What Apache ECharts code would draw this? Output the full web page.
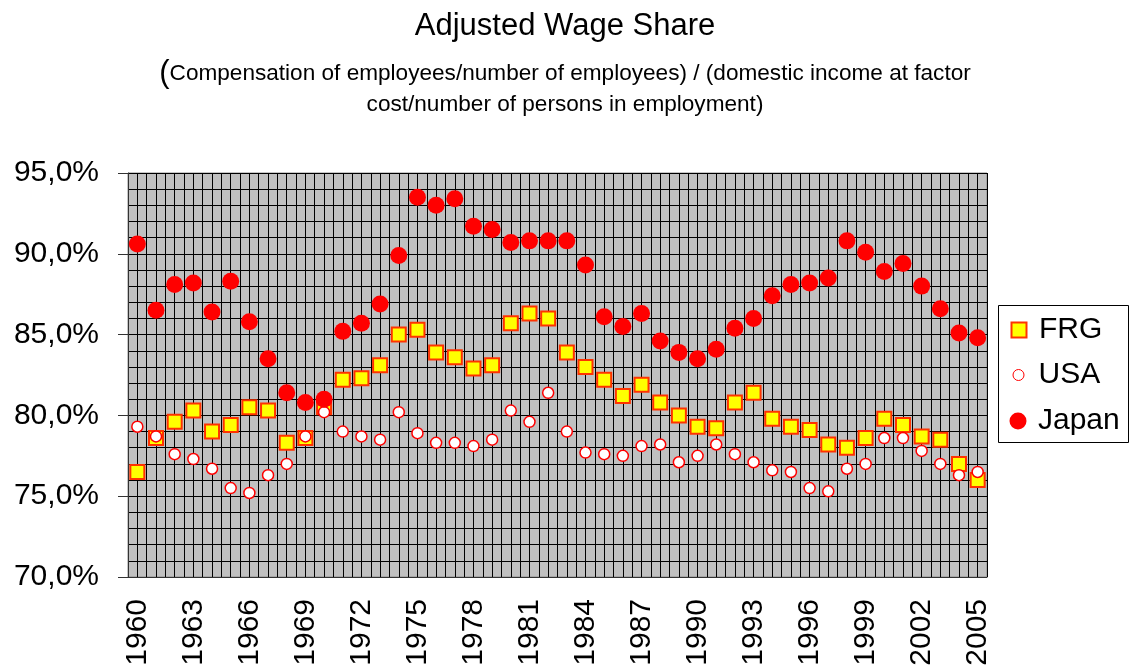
<!DOCTYPE html>
<html>
<head>
<meta charset="utf-8">
<script src="https://cdn.jsdelivr.net/npm/echarts@6/dist/echarts.min.js"></script>
<style>
    html, body { margin: 0; padding: 0; background: #fff; }
    #chart { width: 1130px; height: 670px; }
</style>
</head>
<body>
<div id="chart"></div>
<script>
const years = ["1960", "1961", "1962", "1963", "1964", "1965", "1966", "1967", "1968", "1969",
    "1970", "1971", "1972", "1973", "1974", "1975", "1976", "1977", "1978", "1979",
    "1980", "1981", "1982", "1983", "1984", "1985", "1986", "1987", "1988", "1989",
    "1990", "1991", "1992", "1993", "1994", "1995", "1996", "1997", "1998", "1999",
    "2000", "2001", "2002", "2003", "2004", "2005"];

const frg = [76.5, 78.6, 79.6, 80.3, 79.0, 79.4, 80.5, 80.3, 78.3, 78.6,
    80.5, 82.2, 82.3, 83.1, 85.0, 85.3, 83.9, 83.6, 82.9, 83.1,
    85.7, 86.3, 86.0, 83.9, 83.0, 82.2, 81.2, 81.9, 80.8, 80.0,
    79.3, 79.2, 80.8, 81.4, 79.8, 79.3, 79.1, 78.2, 78.0, 78.6,
    79.8, 79.4, 78.7, 78.5, 77.0, 76.0];

const usa = [79.3, 78.7, 77.6, 77.3, 76.7, 75.5, 75.2, 76.3, 77.0, 78.7,
    80.2, 79.0, 78.7, 78.5, 80.2, 78.9, 78.3, 78.3, 78.1, 78.5,
    80.3, 79.6, 81.4, 79.0, 77.7, 77.6, 77.5, 78.1, 78.2, 77.1,
    77.5, 78.2, 77.6, 77.1, 76.6, 76.5, 75.5, 75.3, 76.7, 77.0,
    78.6, 78.6, 77.8, 77.0, 76.3, 76.5];

const japan = [90.6, 86.5, 88.1, 88.2, 86.4, 88.3, 85.8, 83.5, 81.4, 80.8,
    81.0, 85.2, 85.7, 86.9, 89.9, 93.5, 93.0, 93.4, 91.7, 91.5,
    90.7, 90.8, 90.8, 90.8, 89.3, 86.1, 85.5, 86.3, 84.6, 83.9,
    83.5, 84.1, 85.4, 86.0, 87.4, 88.1, 88.2, 88.5, 90.8, 90.1,
    88.9, 89.4, 88.0, 86.6, 85.1, 84.8];

const font = "'Liberation Sans', Arial, sans-serif";

let myChart = echarts.init(document.getElementById("chart"));

// one legend per series so each icon keeps its own size
function legendItem(name, centerY, size, border) {
    return {
        data: [name],
        orient: "vertical",
        left: 1018 - size / 2,
        top: centerY - 16,
        padding: 0,
        itemWidth: size,
        itemHeight: size,
        selectedMode: false,
        itemStyle: { borderWidth: border, opacity: 1 },
        textStyle: {
            color: "#000",
            fontSize: 30,
            fontFamily: font,
            padding: [0, 0, 0, 15 - size / 2],
        },
    };
}

myChart.setOption({
    backgroundColor: "#fff",
    animation: false,
    title: [
        {
            text: "Adjusted Wage Share",
            left: "center",
            top: 6,
            textStyle: {
                color: "#000",
                fontSize: 31,
                fontWeight: "normal",
                fontFamily: font,
            },
        },
        {
            text: "{p|(}Compensation of employees/number of employees) / (domestic income at factor",
            left: "center",
            top: 53,
            textStyle: {
                color: "#000",
                fontSize: 22.6,
                fontWeight: "normal",
                fontFamily: font,
                rich: {
                    p: {
                        fontSize: 31,
                        color: "#000",
                        fontFamily: font,
                    },
                },
            },
        },
        {
            text: "cost/number of persons in employment)",
            left: "center",
            top: 88,
            textStyle: {
                color: "#000",
                fontSize: 22.6,
                fontWeight: "normal",
                fontFamily: font,
            },
        },
    ],
    legend: [
        legendItem("FRG", 331, 15, 2),
        legendItem("USA", 376, 11, 1),
        legendItem("Japan", 422, 17, 0),
    ],
    graphic: [
        {
            type: "rect",
            left: 998,
            top: 305,
            z: -1,
            shape: { width: 130, height: 137 },
            style: { fill: "#fff", stroke: "#000", lineWidth: 1 },
        },
    ],
    grid: {
        left: 128,
        top: 173,
        right: 143,
        bottom: 93,
        show: true,
        backgroundColor: "#c0c0c0",
        borderColor: "#8c8c8c",
        borderWidth: 1,
    },
    xAxis: [
        {
            type: "category",
            data: years,
            boundaryGap: true,
            axisLine: { lineStyle: { color: "#333", width: 1 } },
            axisTick: { interval: 0, length: 10, lineStyle: { color: "#333" } },
            axisLabel: {
                interval: 2,
                rotate: 90,
                margin: 22,
                color: "#000",
                fontSize: 30,
                fontFamily: font,
            },
            splitLine: { show: false },
        },
        {
            // half-category vertical grid lines
            type: "value",
            min: 0,
            max: 92,
            interval: 1,
            position: "top",
            axisLine: { show: false },
            axisTick: { show: false },
            axisLabel: { show: false },
            splitLine: { show: true, lineStyle: { color: "#000", width: 1 } },
        },
    ],
    yAxis: {
        type: "value",
        min: 70,
        max: 95,
        interval: 5,
        axisLine: { show: true, lineStyle: { color: "#333" } },
        axisTick: { show: true, length: 10, lineStyle: { color: "#333" } },
        axisLabel: {
            margin: 29,
            color: "#000",
            fontSize: 30,
            fontFamily: font,
            formatter: function (v) {
                return v.toFixed(1).replace(".", ",") + "%";
            },
        },
        splitLine: { show: true, lineStyle: { color: "#000", width: 1 } },
        minorTick: { show: false, splitNumber: 5 },
        minorSplitLine: { show: true, lineStyle: { color: "#000", width: 1 } },
    },
    series: [
        {
            name: "FRG",
            type: "scatter",
            data: frg,
            symbol: "rect",
            symbolSize: 14,
            itemStyle: {
                color: "#ffff00",
                borderColor: "#ff3300",
                borderWidth: 2,
                opacity: 1,
            },
        },
        {
            name: "USA",
            type: "scatter",
            data: usa,
            symbol: "circle",
            symbolSize: 11,
            itemStyle: {
                color: "#ffffff",
                borderColor: "#ff0000",
                borderWidth: 1.5,
                opacity: 1,
            },
        },
        {
            name: "Japan",
            type: "scatter",
            data: japan,
            symbol: "circle",
            symbolSize: 17,
            itemStyle: {
                color: "#ff0000",
                opacity: 1,
            },
        },
    ],
});
</script>
</body>
</html>
